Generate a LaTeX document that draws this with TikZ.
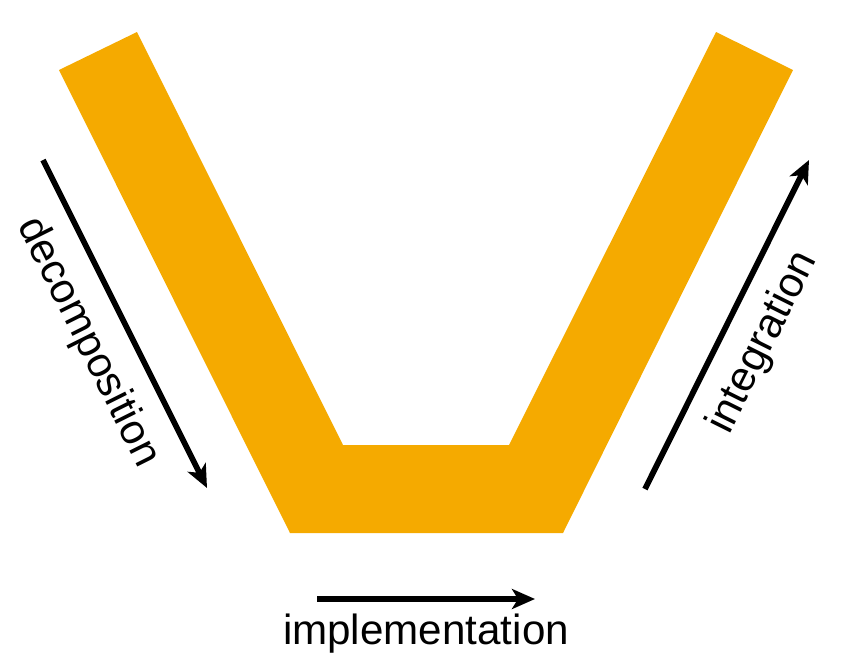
\documentclass[tikz,border=0pt]{standalone}
\usepackage{fontspec}
\setmainfont{Liberation Sans}
\usepackage{tikz}
\usetikzlibrary{arrows.meta, positioning}
\definecolor{vorange}{RGB}{245,170,0}
\tikzset{
    flow/.style={->, line width=3.3pt},
    flowlabel/.style={font=\fontsize{24}{28}\selectfont, inner sep=0pt},
}

\begin{document}
\begin{tikzpicture}[>={Stealth[length=0.46cm, width=0.4cm, inset=0.12cm]}, x=0.02cm, y=-0.02cm]
    \useasboundingbox (0, 0) rectangle (866, 670);
    % the V
    \fill[vorange] (59, 70) -- (137, 32) -- (343, 445) -- (509, 445) -- (716, 32)
        -- (793, 70) -- (563, 533) -- (290, 533) -- cycle;

    \coordinate (decstart) at (43, 160);
    \coordinate (decend) at (207, 488);
    \draw[flow] (decstart) -- node[flowlabel, sloped, below=0.38cm] (declabel) {decomposition} (decend);

    \coordinate (intstart) at (645, 489);
    \coordinate (intend) at (809, 160);
    \draw[flow] (intstart) -- node[flowlabel, sloped, below=0.36cm] (intlabel) {integration} (intend);

    \coordinate (impstart) at (317, 599);
    \coordinate (impend) at (535, 599);
    \draw[flow] (impstart) -- node[flowlabel, below=0.24cm] (implabel) {implementation} (impend);
\end{tikzpicture}
\end{document}
